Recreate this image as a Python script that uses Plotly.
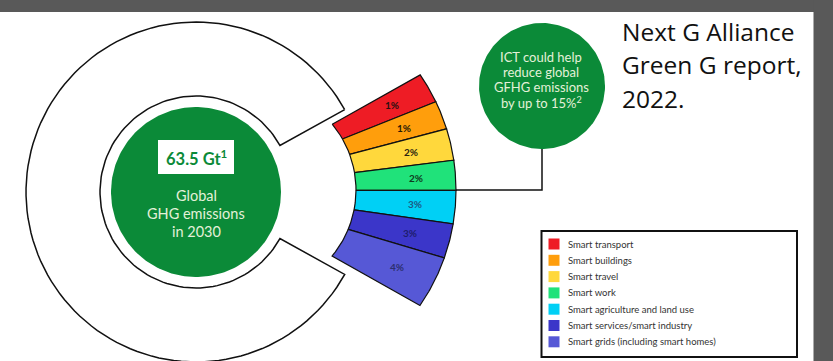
import numpy as np
import plotly.graph_objects as go

# ICT-enabled reduction potential of global GHG emissions, by sector
sectors = [
    "Smart transport",
    "Smart buildings",
    "Smart travel",
    "Smart work",
    "Smart agriculture and land use",
    "Smart services/smart industry",
    "Smart grids (including smart homes)",
]
reduction_pct = [1, 1, 2, 2, 3, 3, 4]
slice_arc_deg = [7.5, 7.0, 7.7, 7.2, 8.0, 8.4, 12.9]
slice_colors = ["#ee1c25", "#ff9e0c", "#ffd83c", "#20e27a", "#00d0f5", "#3b36c9", "#5658d6"]
label_colors = ["#2a1010", "#2a1a05", "#2a2410", "#0f3a20", "#1d5a86", "#1e1d6e", "#2c2f70"]

total_emissions_gt = 63.5
ict_potential_pct = 15
source_lines = ["Next G Alliance", "Green G report,", "2022."]

# ---- canvas (1 data unit = 1 pixel, y pointing down) ----
W, H = 833, 361
GREEN = "#0b8a38"
PALE = "#e4f1d8"
FONT = "Lato"

ring_c = (196, 192)
ring_r_out, ring_r_in, disc_r = 170, 96, 85
ring_gap_half = 29.0

fan_apex = (215, 190)
fan_arc_c = (253, 190)
fan_r_in, fan_r_out = 103, 203
fan_top = 29.3

ict_c = (542, 86)
ict_r = 63


def arc(c, r, a0, a1, n=120):
    t = np.radians(np.linspace(a0, a1, n))
    return c[0] + r * np.cos(t), c[1] - r * np.sin(t)


def ray_hit(theta, r):
    """Distance along a ray from the fan apex to the fan arc of radius r."""
    th = np.radians(theta)
    dx = fan_apex[0] - fan_arc_c[0]
    b = dx * np.cos(th)
    return -b + np.sqrt(b * b - (dx * dx - r * r))


def ray_pt(theta, t):
    th = np.radians(theta)
    return fan_apex[0] + t * np.cos(th), fan_apex[1] - t * np.sin(th)


fig = go.Figure()

# C-shaped ring
ox, oy = arc(ring_c, ring_r_out, ring_gap_half, 360 - ring_gap_half)
ix, iy = arc(ring_c, ring_r_in, 360 - ring_gap_half, ring_gap_half)
fig.add_trace(go.Scatter(
    x=np.r_[ox, ix, ox[:1]], y=np.r_[oy, iy, oy[:1]], mode="lines",
    fill="toself", fillcolor="white", line=dict(color="#111", width=1.5),
    hoverinfo="skip"))

# green disc
dx_, dy_ = arc(ring_c, disc_r, 0, 360, 200)
fig.add_trace(go.Scatter(x=dx_, y=dy_, mode="lines", fill="toself",
                         fillcolor=GREEN, line=dict(width=0), hoverinfo="skip"))

# fan slices
edges = fan_top - np.r_[0, np.cumsum(slice_arc_deg)]
for i, (name, val, col) in enumerate(zip(sectors, reduction_pct, slice_colors)):
    a0, a1 = edges[i], edges[i + 1]
    th = np.linspace(a0, a1, 30)
    inner = [ray_pt(a, ray_hit(a, fan_r_in)) for a in th]
    outer = [ray_pt(a, ray_hit(a, fan_r_out)) for a in th[::-1]]
    pts = inner + outer + inner[:1]
    fig.add_trace(go.Scatter(
        x=[p[0] for p in pts], y=[p[1] for p in pts], mode="lines",
        fill="toself", fillcolor=col, line=dict(color="#111", width=1.2),
        name=name, hoverinfo="name"))
    mid = (a0 + a1) / 2
    t_in, t_out = ray_hit(mid, fan_r_in), ray_hit(mid, fan_r_out)
    lx, ly = ray_pt(mid, t_in + 0.6 * (t_out - t_in))
    fig.add_annotation(x=lx, y=ly, text=f"<b>{val}%</b>", showarrow=False,
                       font=dict(family=FONT, size=10, color=label_colors[i]))

# connector from the ICT bubble to the fan
mx, _ = ray_pt(0, ray_hit(0, fan_r_out))
fig.add_trace(go.Scatter(
    x=[ict_c[0], ict_c[0], mx], y=[ict_c[1] + ict_r, fan_apex[1], fan_apex[1]],
    mode="lines", line=dict(color="#111", width=1.5), hoverinfo="skip"))

# ICT bubble
bx, by = arc(ict_c, ict_r, 0, 360, 200)
fig.add_trace(go.Scatter(x=bx, y=by, mode="lines", fill="toself",
                         fillcolor=GREEN, line=dict(width=0), hoverinfo="skip"))
ict_lines = ["ICT could help", "reduce global", "GFHG emissions",
             f"by up to {ict_potential_pct}%<sup>2</sup>"]
for k, s in enumerate(ict_lines):
    fig.add_annotation(x=ict_c[0] - 1, y=57 + 15.2 * k, text=s, showarrow=False,
                       font=dict(family=FONT, size=13, color=PALE))

# centre label
shapes = [
    dict(type="rect", xref="x", yref="y", x0=158, x1=234, y0=140, y1=174,
         fillcolor="white", line=dict(width=0), layer="above"),
]
fig.add_annotation(x=ring_c[0], y=157.5, text=f"<b>{total_emissions_gt} Gt<sup>1</sup></b>",
                   showarrow=False, font=dict(family=FONT, size=16.5, color=GREEN))
for k, s in enumerate(["Global", "GHG emissions", "in 2030"]):
    fig.add_annotation(x=ring_c[0], y=195 + 18.3 * k, text=s, showarrow=False,
                       font=dict(family=FONT, size=14.5, color=PALE))

# legend
shapes.append(dict(type="rect", xref="x", yref="y", x0=541.5, x1=797, y0=231, y1=357,
                   fillcolor="white", line=dict(color="#111", width=2), layer="below"))
leg_y = [244 + 16.3 * i for i in range(len(sectors))]
fig.add_trace(go.Scatter(
    x=[554] * len(sectors), y=leg_y, mode="markers",
    marker=dict(symbol="square", size=11, color=slice_colors, line=dict(width=0)),
    hoverinfo="skip"))
for name, yy in zip(sectors, leg_y):
    fig.add_annotation(x=565.5, y=yy, text=name, showarrow=False, xanchor="left",
                       font=dict(family=FONT, size=9.5, color="#333"))

# source note
for k, s in enumerate(source_lines):
    fig.add_annotation(x=620, y=31 + 33.5 * k, text=s, showarrow=False, xanchor="left",
                       font=dict(family="Open Sans", size=24.5, color="#111"))

# dark frame
FRAME = "#595959"
shapes += [
    dict(type="rect", xref="paper", yref="paper", x0=0, x1=1, y0=1 - 12 / H, y1=1,
         fillcolor=FRAME, line=dict(width=0), layer="above"),
    dict(type="rect", xref="paper", yref="paper", x0=813.5 / W, x1=1, y0=0, y1=1,
         fillcolor=FRAME, line=dict(width=0), layer="above"),
]

fig.update_layout(
    width=W, height=H, margin=dict(l=0, r=0, t=0, b=0),
    paper_bgcolor="white", plot_bgcolor="white", showlegend=False,
    xaxis=dict(range=[0, W], visible=False, fixedrange=True),
    yaxis=dict(range=[H, 0], visible=False, fixedrange=True),
    shapes=shapes,
)
fig.write_html("out.html")
